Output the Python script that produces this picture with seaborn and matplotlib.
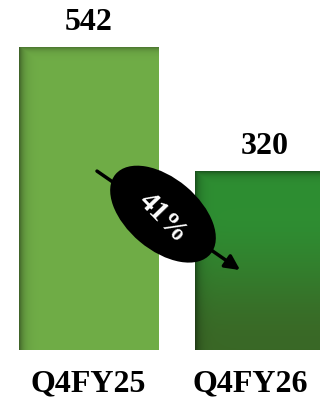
import numpy as np
import pandas as pd
import matplotlib
matplotlib.use("Agg")
import matplotlib.pyplot as plt
import seaborn as sns
from matplotlib.patches import Ellipse
from matplotlib import transforms

# ---- data ----
periods = ["Q4FY25", "Q4FY26"]
values = [542, 320]
change_label = "41%"
bar_colors = ["#70AD47", "#2E8E31"]

sns.set_style("white")
plt.rcParams['font.family'] = ['Liberation Serif', 'DejaVu Serif']

fig = plt.figure(figsize=(3.2, 4.0), dpi=100)
ax = fig.add_axes([0, 0.125, 1, 0.875])
df = pd.DataFrame({"period": periods, "value": values})
sns.barplot(data=df, x="period", y="value", hue="period", palette=bar_colors,
            order=periods, hue_order=periods, width=0.79, saturation=1,
            legend=False, ax=ax)
XL, YL = (-0.503, 1.315), (0, 626)
ax.set_xlim(*XL)
ax.set_ylim(*YL)
ax.axis('off')

fig.canvas.draw()

def shade(W, H, i):
    xs = np.arange(W)[None, :].astype(float)
    ys = np.arange(H)[:, None].astype(float)
    t = ys / max(H - 1, 1)
    if i == 0:
        base = np.array([112, 173, 71]) / 255.0
        col = np.ones((H, W, 3)) * base
    else:
        top = np.array([46, 142, 50]) / 255.0
        bot = np.array([58, 104, 38]) / 255.0
        s = np.clip((t - 0.2) / 0.8, 0, 1)
        s = s * s * (3 - 2 * s)
        col = top[None, None, :] * (1 - s[..., None]) + bot[None, None, :] * s[..., None]
        col = np.broadcast_to(col, (H, W, 3)).copy()
    left = 1 - 0.42 * np.exp(-xs / 4.5)
    topf = 1 - 0.38 * np.exp(-ys / 3.5)
    f = np.minimum(left, topf)
    return np.clip(col * f[..., None], 0, 1)

for i, patch in enumerate(list(ax.patches)):
    x0, y0 = patch.get_x(), patch.get_y()
    w, h = patch.get_width(), patch.get_height()
    p0 = ax.transData.transform((x0, y0))
    p1 = ax.transData.transform((x0 + w, y0 + h))
    W = max(int(round(p1[0] - p0[0])), 2)
    H = max(int(round(p1[1] - p0[1])), 2)
    img = shade(W, H, i)
    im = ax.imshow(img, extent=(x0, x0 + w, y0, y0 + h), origin='upper',
                   aspect='auto', interpolation='bilinear',
                   zorder=patch.get_zorder() + 0.1)
    im.set_clip_path(patch)

ax.set_xlim(*XL)
ax.set_ylim(*YL)

# value labels
for i, v in enumerate(values):
    ax.annotate(f"{v}", xy=(i, v), xytext=(0, 17), textcoords='offset pixels',
                ha='center', va='baseline', fontsize=23, fontweight='bold',
                color='black', annotation_clip=False)

# category labels
label_dx = [0, -14]
for i, p in enumerate(periods):
    ax.annotate(p, xy=(i, 0), xytext=(label_dx[i], -41), textcoords='offset pixels',
                ha='center', va='baseline', fontsize=23, fontweight='bold',
                color='black', annotation_clip=False)

# change arrow
ax.annotate("", xy=(0.861, 143), xytext=(0.048, 320),
            arrowprops=dict(arrowstyle='-|>', lw=2.5, color='black',
                            mutation_scale=22, shrinkA=0, shrinkB=0),
            zorder=4)

cx, cy = 0.423, 243
trans = fig.dpi_scale_trans + transforms.ScaledTranslation(cx, cy, ax.transData)
ax.add_patch(Ellipse((0, 0), 1.24, 0.72, angle=-40, transform=trans,
                     facecolor='black', edgecolor='none', zorder=5))
ax.text(cx, cy - 6, change_label, rotation=-46, rotation_mode='anchor',
        ha='center', va='center', color='white', fontsize=21,
        fontweight='bold', zorder=6)

fig.savefig("out.png", dpi=100)
